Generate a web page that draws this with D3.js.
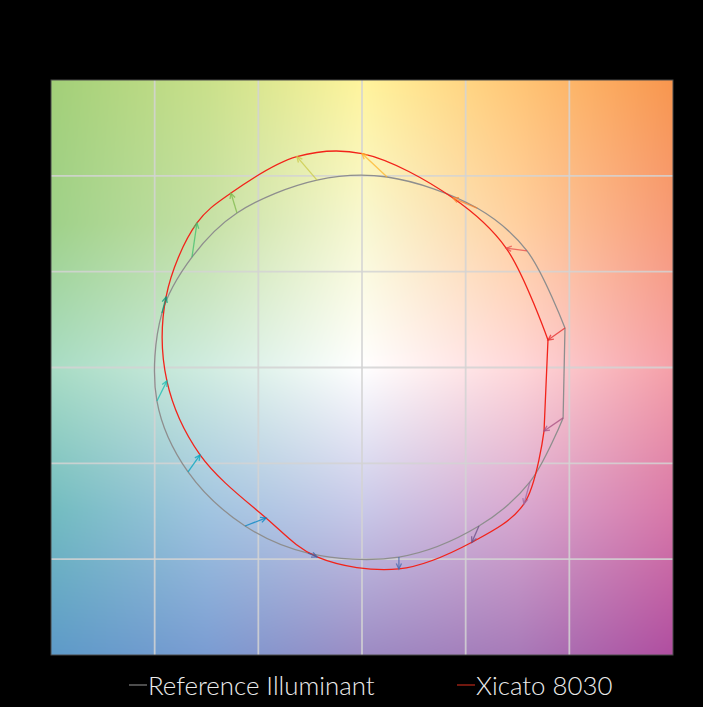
<!DOCTYPE html>
<html><head><meta charset="utf-8">
<script src="https://cdn.jsdelivr.net/npm/d3@7"></script>
<style>html,body{margin:0;padding:0;background:#000;}svg{display:block;}</style>
</head><body>
<script>
// ---- data (normalized a', b' coordinates, 16 hue bins) ----
const bins = [1,2,3,4,5,6,7,8,9,10,11,12,13,14,15,16];
const refX  = [0.979, 0.796, 0.555, 0.121,-0.217,-0.603,-0.820,-0.965,-0.989,-0.839,-0.564,-0.260, 0.178, 0.564, 0.810, 0.970];
const refY  = [0.206, 0.608, 0.832, 0.994, 0.978, 0.806, 0.576, 0.284,-0.175,-0.545,-0.827,-0.968,-0.989,-0.827,-0.597,-0.263];
const testX = [0.897, 0.695, 0.439, 0.000,-0.314,-0.632,-0.796,-0.945,-0.941,-0.781,-0.463,-0.217, 0.178, 0.530, 0.781, 0.878];
const testY = [0.143, 0.623, 0.884, 1.116, 1.100, 0.910, 0.754, 0.368,-0.070,-0.456,-0.785,-0.988,-1.051,-0.912,-0.712,-0.331];
const binColors = ["#e62828","#e74b4b","#fb812e","#ffb529","#cbca46","#7eb94c","#41c06d","#009c7c",
                   "#16bcb0","#00a4bf","#0085c3","#3b62aa","#4568ae","#6a4e85","#9d69a1","#a74f81"];
const gridTicks = [-1,-0.5,0,0.5,1];
const seriesNames = ["Reference Illuminant","Xicato 8030"];

const W = 703, H = 707;
const L = 51, R = 673, T = 80, B = 655;
const x = d3.scaleLinear().domain([-1.5,1.5]).range([L,R]);
const y = d3.scaleLinear().domain([-1.5,1.5]).range([B,T]);

const svg = d3.select("body").append("svg").attr("width",W).attr("height",H);
svg.append("rect").attr("width",W).attr("height",H).attr("fill","#000");

// ---- background colour field (5x5 control colours, bilinear) ----
const bg = [
 ["#a2cf78","#c9e08a","#fff49c","#ffc676","#f8964e"],
 ["#9fd189","#c5e0a5","#f8f8d2","#ffd0a0","#f79a78"],
 ["#a8dcc4","#d0ece0","#ffffff","#ffd8da","#f5a0a8"],
 ["#72bcc0","#a0c4e0","#c8c8e8","#d8a8d0","#d878a8"],
 ["#5d9ac8","#7a9cd2","#9c8cc4","#a87ab8","#b04ea0"]
].map(r => r.map(c => d3.rgb(c)));
const cw = R-L, ch = B-T;
const cv = document.createElement("canvas");
cv.width = cw; cv.height = ch;
const ctx = cv.getContext("2d");
const img = ctx.createImageData(cw, ch);
for (let j=0;j<ch;j++){
  const fy = j/(ch-1)*4, iy = Math.min(3,Math.floor(fy)), ty = fy-iy;
  for (let i=0;i<cw;i++){
    const fx = i/(cw-1)*4, ix = Math.min(3,Math.floor(fx)), tx = fx-ix;
    const c00=bg[iy][ix], c10=bg[iy][ix+1], c01=bg[iy+1][ix], c11=bg[iy+1][ix+1];
    const k=(j*cw+i)*4;
    for (const [n,ch2] of [["r",0],["g",1],["b",2]]){
      const v=(c00[n]*(1-tx)+c10[n]*tx)*(1-ty)+(c01[n]*(1-tx)+c11[n]*tx)*ty;
      img.data[k+ch2]=v;
    }
    img.data[k+3]=255;
  }
}
ctx.putImageData(img,0,0);
svg.append("image").attr("x",L).attr("y",T).attr("width",cw).attr("height",ch)
   .attr("href",cv.toDataURL());

// ---- grid ----
const g = svg.append("g");
g.selectAll(".gx").data(gridTicks).join("line")
  .attr("x1",d=>x(d)).attr("x2",d=>x(d)).attr("y1",T).attr("y2",B)
  .attr("stroke","#d4d4d4").attr("stroke-width",1.8).attr("opacity",0.85);
g.selectAll(".gy").data(gridTicks).join("line")
  .attr("y1",d=>y(d)).attr("y2",d=>y(d)).attr("x1",L).attr("x2",R)
  .attr("stroke","#d4d4d4").attr("stroke-width",1.8).attr("opacity",0.85);
svg.append("rect").attr("x",L).attr("y",T).attr("width",cw).attr("height",ch)
  .attr("fill","none").attr("stroke","#4a4a4a").attr("stroke-width",1);

// ---- curves ----
const line = d3.line().x(d=>x(d[0])).y(d=>y(d[1])).curve(d3.curveCatmullRom.alpha(0.5));
const refPts = bins.map((b,i)=>[refX[i],refY[i]]);
const testPts = bins.map((b,i)=>[testX[i],testY[i]]);
svg.append("path").attr("d",line(refPts)+"Z").attr("fill","none")
  .attr("stroke","#8e8e8e").attr("stroke-width",1.3);
svg.append("path").attr("d",line(testPts)+"Z").attr("fill","none")
  .attr("stroke","#f2231a").attr("stroke-width",1.3);

// ---- arrows ----
const ag = svg.append("g");
bins.forEach((b,i)=>{
  const x0=x(refX[i]), y0=y(refY[i]), x1=x(testX[i]), y1=y(testY[i]);
  const ang=Math.atan2(y1-y0,x1-x0), hl=6, ha=0.45;
  const col=binColors[i];
  ag.append("line").attr("x1",x0).attr("y1",y0).attr("x2",x1).attr("y2",y1)
    .attr("stroke",col).attr("stroke-width",1.3).attr("opacity",0.75);
  ag.append("path")
    .attr("d",`M${x1-hl*Math.cos(ang-ha)},${y1-hl*Math.sin(ang-ha)}L${x1},${y1}L${x1-hl*Math.cos(ang+ha)},${y1-hl*Math.sin(ang+ha)}`)
    .attr("fill","none").attr("stroke",col).attr("stroke-width",1.3).attr("opacity",0.75);
});

// ---- legend ----
const leg = [{name:seriesNames[0],color:"#9a9a9a",lx:129},{name:seriesNames[1],color:"#e0301e",lx:457}];
const lg = svg.append("g");
leg.forEach(d=>{
  lg.append("line").attr("x1",d.lx).attr("x2",d.lx+18).attr("y1",685).attr("y2",685)
    .attr("stroke",d.color).attr("stroke-width",1);
  lg.append("text").attr("x",d.lx+19).attr("y",695).text(d.name)
    .attr("fill","#ececec").attr("font-family","Lato, 'Open Sans', sans-serif")
    .attr("font-weight",300).attr("font-size",25.8);
});
</script>
</body></html>
